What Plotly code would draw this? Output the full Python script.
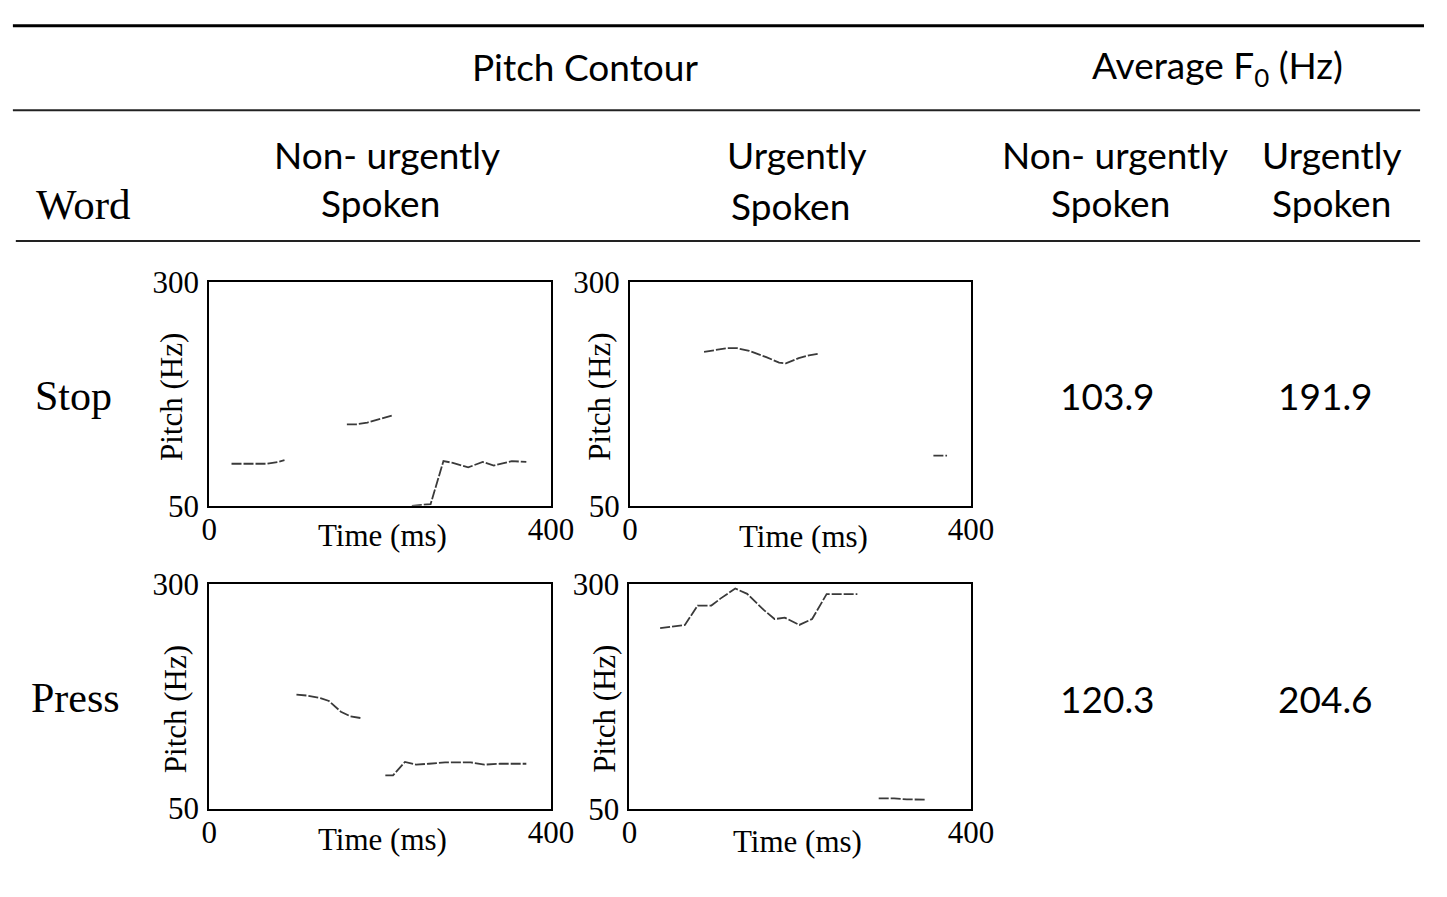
import plotly.graph_objects as go

W, H = 1447, 897

# ---- data ----
words = ["Stop", "Press"]
avg_f0_non_urgent = ["103.9", "120.3"]
avg_f0_urgent = ["191.9", "204.6"]

x_ticks = [0, 400]
y_ticks = [50, 300]

# pitch contours: time (ms) / pitch (Hz); None separates voiced segments
stop_non_t = [26, 40, 55, 68, 80, 88, None, 161, 172, 185, 200, 214, None,
              237, 250, 259, 274, 285, 303, 320, 333, 354, 371]
stop_non_hz = [97, 97, 97, 97, 99, 101, None, 141, 141, 143, 147, 151, None,
               50, 51, 52, 100, 98, 93, 99, 95, 100, 99]

stop_urg_t = [87, 100, 114, 126, 140, 160, 175, 183, 198, 210, 222, None, 356, 372]
stop_urg_hz = [222, 224, 226, 226, 223, 216, 210, 209, 215, 218, 220, None, 106, 106]

press_non_t = [102, 115, 131, 140, 154, 165, 177, None,
               206, 215, 229, 242, 257, 276, 306, 322, 340, 371]
press_non_hz = [177, 176, 173, 170, 158, 153, 151, None,
                87, 87, 102, 99, 100, 101.5, 101.5, 99, 100, 100]

press_urg_t = [36, 50, 65, 80, 96, 107, 124, 138, 157, 170, 182, 199, 214, 231, 237, 267,
               None, 292, 310, 325, 348]
press_urg_hz = [251, 253, 254.5, 276, 276, 284, 295, 289, 271.5, 261, 262.5, 254.5, 261, 288.7, 288.7, 288.7,
                None, 61.7, 61.7, 60.5, 60.3]

panels = [
    (stop_non_t, stop_non_hz, (205.7, 555, 275.7, 508.7)),
    (stop_urg_t, stop_urg_hz, (635.5, 984, 275.7, 508.7)),
    (press_non_t, press_non_hz, (205.7, 555, 590.5, 823.7)),
    (press_urg_t, press_urg_hz, (635, 984, 590, 824)),
]

def px(x):
    return x / W

def py(y):
    return 1 - y / H

fig = go.Figure()
SERIF = "Liberation Serif, Times New Roman, serif"
SANS = "Lato, Open Sans, sans-serif"

for i, (t, hz, (x0, x1, y0, y1)) in enumerate(panels, start=1):
    xa = "x" if i == 1 else f"x{i}"
    ya = "y" if i == 1 else f"y{i}"
    fig.add_trace(go.Scatter(x=t, y=hz, mode="lines", xaxis=xa, yaxis=ya,
                             line=dict(color="#3a3a3a", width=1.8, dash="10px,2px"),
                             connectgaps=False, showlegend=False, hoverinfo="skip"))
    axkey = "xaxis" if i == 1 else f"xaxis{i}"
    aykey = "yaxis" if i == 1 else f"yaxis{i}"
    fig.update_layout(**{
        axkey: dict(domain=[px(x0), px(x1)], range=[0, 400], anchor=ya,
                    tickvals=x_ticks, ticks="", showgrid=False, zeroline=False,
                    showline=True, linecolor="black", linewidth=2, mirror=True,
                    tickfont=dict(family=SERIF, size=31, color="black"),
                    ticklabelstandoff=-5),
        aykey: dict(domain=[py(y1), py(y0)], range=[50, 300], anchor=xa,
                    tickvals=y_ticks, ticks="", showgrid=False, zeroline=False,
                    showline=True, linecolor="black", linewidth=2, mirror=True,
                    tickfont=dict(family=SERIF, size=31, color="black"),
                    ticklabelstandoff=2),
    })

annotations = []

def txt(x, y, s, size, family, angle=0):
    annotations.append(dict(x=px(x), y=py(y), xref="paper", yref="paper", text=s,
                            showarrow=False, xanchor="center", yanchor="middle",
                            textangle=angle,
                            font=dict(family=family, size=size, color="black")))

# axis titles
for (xt, yt, xp, yp) in [(383, 540, 167, 395), (813, 541, 605, 395),
                         (383, 856, 172, 720), (807, 858, 610, 720)]:
    txt(xt, yt, "Time (ms)", 31, SERIF)
    txt(xp, yp, "Pitch (Hz)", 31, SERIF, angle=-90)

# table header
HS = 37
txt(590, 52, "Pitch Contour", HS, SANS)
txt(1236, 53, "Average F<sub>0</sub> (Hz)", HS, SANS)
txt(387, 143, "Non- urgently", HS, SANS)
txt(381, 193, "Spoken", HS, SANS)
txt(806, 143, "Urgently", HS, SANS)
txt(800, 196, "Spoken", HS, SANS)
txt(1131, 143, "Non- urgently", HS, SANS)
txt(1127, 193, "Spoken", HS, SANS)
txt(1353, 143, "Urgently", HS, SANS)
txt(1352, 193, "Spoken", HS, SANS)
txt(77, 195, "Word", 43, SERIF)

# rows
row_y = [394, 709]
word_x = [67, 69]
for w, wx, yy, a, b in zip(words, word_x, row_y, avg_f0_non_urgent, avg_f0_urgent):
    txt(wx, yy, w, 42, SERIF)
    txt(1124, yy, a, HS, SANS)
    txt(1346, yy, b, HS, SANS)

shapes = [
    dict(type="line", xref="paper", yref="paper", x0=px(5), x1=px(1447), y0=py(9), y1=py(9),
         line=dict(color="black", width=3)),
    dict(type="line", xref="paper", yref="paper", x0=px(5), x1=px(1443), y0=py(97), y1=py(97),
         line=dict(color="#222", width=2)),
    dict(type="line", xref="paper", yref="paper", x0=px(8), x1=px(1443), y0=py(233), y1=py(233),
         line=dict(color="#222", width=2)),
]

fig.update_layout(width=W, height=H, margin=dict(l=0, r=0, t=0, b=0),
                  paper_bgcolor="white", plot_bgcolor="white",
                  annotations=annotations, shapes=shapes, showlegend=False)

fig.write_html("out.html")
